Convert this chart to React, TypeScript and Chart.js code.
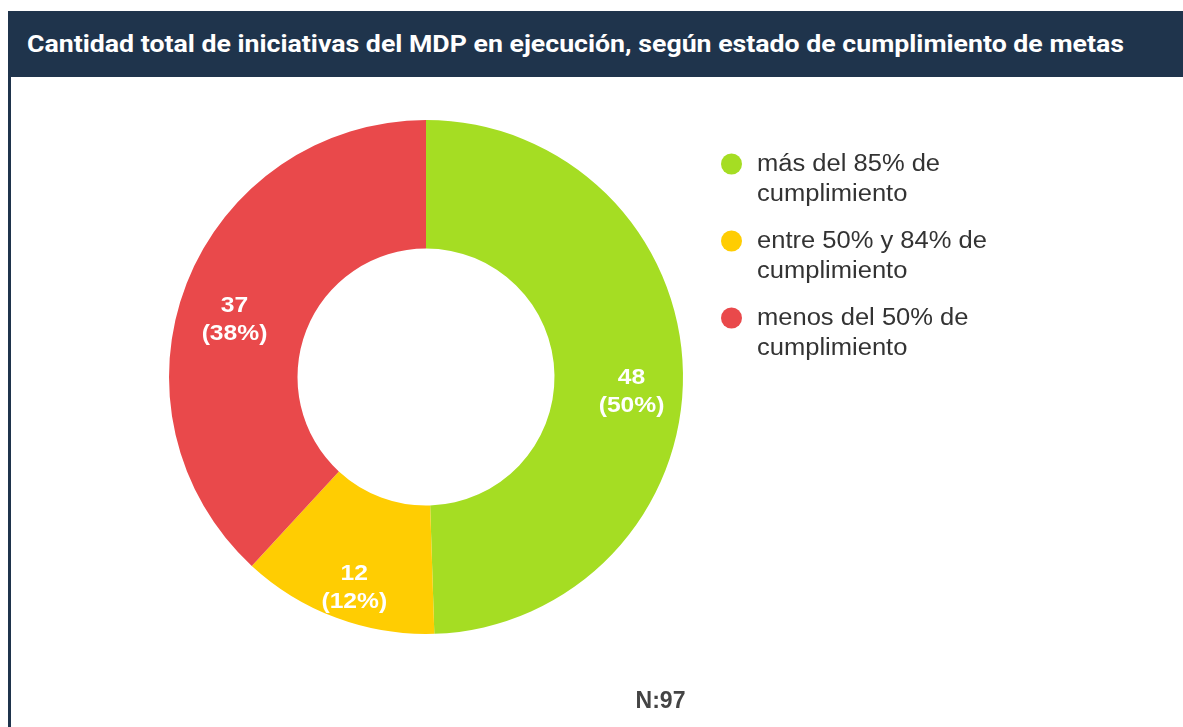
import React, { useEffect, useRef } from "react";
import { Chart, registerables } from "chart.js";

Chart.register(...registerables);

const TITLE = "Cantidad total de iniciativas del MDP en ejecución, según estado de cumplimiento de metas";
const categories: string[][] = [
  ["más del 85% de", "cumplimiento"],
  ["entre 50% y 84% de", "cumplimiento"],
  ["menos del 50% de", "cumplimiento"],
];
const values: number[] = [48, 12, 37];
const percents: number[] = [50, 12, 38];
const colors: string[] = ["#a5dd23", "#ffcd02", "#e9494b"];
const totalLabel = "N:97";

const NAVY = "#1f344c";

function stretchText(ctx: CanvasRenderingContext2D, t: string, x: number, y: number, sx: number) {
  ctx.save();
  ctx.translate(x, y);
  ctx.scale(sx, 1);
  ctx.fillText(t, 0, 0);
  ctx.restore();
}

const overlayPlugin = {
  id: "overlay",
  afterDatasetsDraw(chart: any) {
    const ctx = chart.ctx as CanvasRenderingContext2D;
    const meta = chart.getDatasetMeta(0);
    ctx.save();
    // slice labels
    ctx.fillStyle = "#ffffff";
    ctx.font = "bold 22px 'Liberation Sans', Arial, sans-serif";
    ctx.textAlign = "center";
    ctx.textBaseline = "middle";
    meta.data.forEach((arc: any, i: number) => {
      const p = arc.getProps(["x", "y", "startAngle", "endAngle", "outerRadius"], true);
      const mid = (p.startAngle + p.endAngle) / 2;
      const r = p.outerRadius * 0.8;
      const x = p.x + Math.cos(mid) * r;
      const y = p.y + Math.sin(mid) * r + 18;
      stretchText(ctx, String(values[i]), x, y - 14, 1.12);
      stretchText(ctx, "(" + percents[i] + "%)", x, y + 14, 1.12);
    });
    // legend
    const lx = 720.5;
    const ly = 87;
    categories.forEach((lines, i) => {
      const cy = ly + i * 77;
      ctx.beginPath();
      ctx.fillStyle = colors[i];
      ctx.arc(lx, cy, 10.5, 0, Math.PI * 2);
      ctx.fill();
      ctx.fillStyle = "#333333";
      ctx.font = "23px 'Liberation Sans', Arial, sans-serif";
      ctx.textAlign = "left";
      ctx.textBaseline = "middle";
      lines.forEach((t, j) => stretchText(ctx, t, lx + 25.5, cy + 1 + j * 30, 1.11));
    });
    // N label
    ctx.fillStyle = "#444444";
    ctx.font = "bold 23px 'Liberation Sans', Arial, sans-serif";
    ctx.textAlign = "center";
    ctx.textBaseline = "middle";
    ctx.fillText(totalLabel, 649.5, 625);
    ctx.restore();
  },
};

export default function App() {
  const ref = useRef<HTMLCanvasElement | null>(null);
  useEffect(() => {
    document.documentElement.style.overflow = "hidden";
    document.body.style.overflow = "hidden";
    const canvas = ref.current;
    if (!canvas) return;
    const chart = new Chart(canvas, {
      type: "doughnut",
      data: {
        labels: categories.map((c) => c.join(" ")),
        datasets: [
          {
            data: values,
            backgroundColor: colors,
            borderWidth: 0,
            hoverOffset: 0,
          },
        ],
      },
      options: {
        responsive: false,
        animation: false,
        cutout: "50%",
        layout: { padding: { left: 158, right: 500, top: 43, bottom: 92 } },
        plugins: {
          legend: { display: false },
          tooltip: { enabled: false },
        },
      },
      plugins: [overlayPlugin],
    });
    return () => chart.destroy();
  }, []);

  return (
    <div style={{ position: "fixed", left: 8, top: 11, width: 1175, height: 716, overflow: "hidden" }}>
      <div
        style={{
          height: 66,
          background: NAVY,
          color: "#ffffff",
          fontFamily: "Roboto, sans-serif",
          fontWeight: 700,
          fontSize: 23,
          display: "flex",
          alignItems: "center",
          paddingLeft: 19,
          boxSizing: "border-box",
          whiteSpace: "nowrap",
        }}
      >
        <span style={{ display: "inline-block", transform: "scaleX(1.16)", transformOrigin: "left center" }}>
          {TITLE}
        </span>
      </div>
      <div style={{ borderLeft: `3px solid ${NAVY}`, height: 650, boxSizing: "border-box" }}>
        <canvas ref={ref} width={1172} height={649} style={{ display: "block" }} />
      </div>
    </div>
  );
}
